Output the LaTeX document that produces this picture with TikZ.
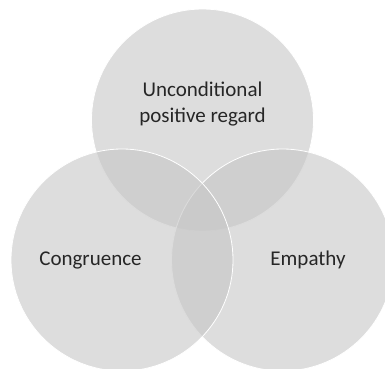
\documentclass[tikz,border=0pt]{standalone}
\usepackage{fontspec}
\setmainfont{Carlito}
\usepackage{xcolor}
\usepackage{tikz}
\usetikzlibrary{positioning}
\definecolor{circlegray}{HTML}{C6C6C6}
\definecolor{labelgray}{HTML}{262626}

\tikzset{
  vennset/.style={circle, fill=circlegray, fill opacity=0.6, draw=white,
                  line width=0.8pt, minimum size=222pt, inner sep=0pt},
  vennlabel/.style={text=labelgray, align=center,
                    font=\fontsize{21}{26.5}\selectfont}
}

\begin{document}
\begin{tikzpicture}[x=1pt, y=1pt]
    \useasboundingbox (0,0) rectangle (385,368);
    % the three sets, top one first so the lower ones sit above it
    \node[vennset] (regard) at (202.5,248) {};
    \node[vennset] (empathy) at (282.5,108) {};
    \node[vennset] (congruence) at (122,108) {};
    % set names
    \node[vennlabel] (regardtext) at ([yshift=16pt]regard.center)
      {Unconditional\\positive regard};
    \node[vennlabel] (congruencetext) at ([xshift=-31.5pt]congruence.center)
      {Congruence};
    \node[vennlabel] (empathytext) at ([xshift=25.5pt]empathy.center)
      {Empathy};
  \end{tikzpicture}
\end{document}
